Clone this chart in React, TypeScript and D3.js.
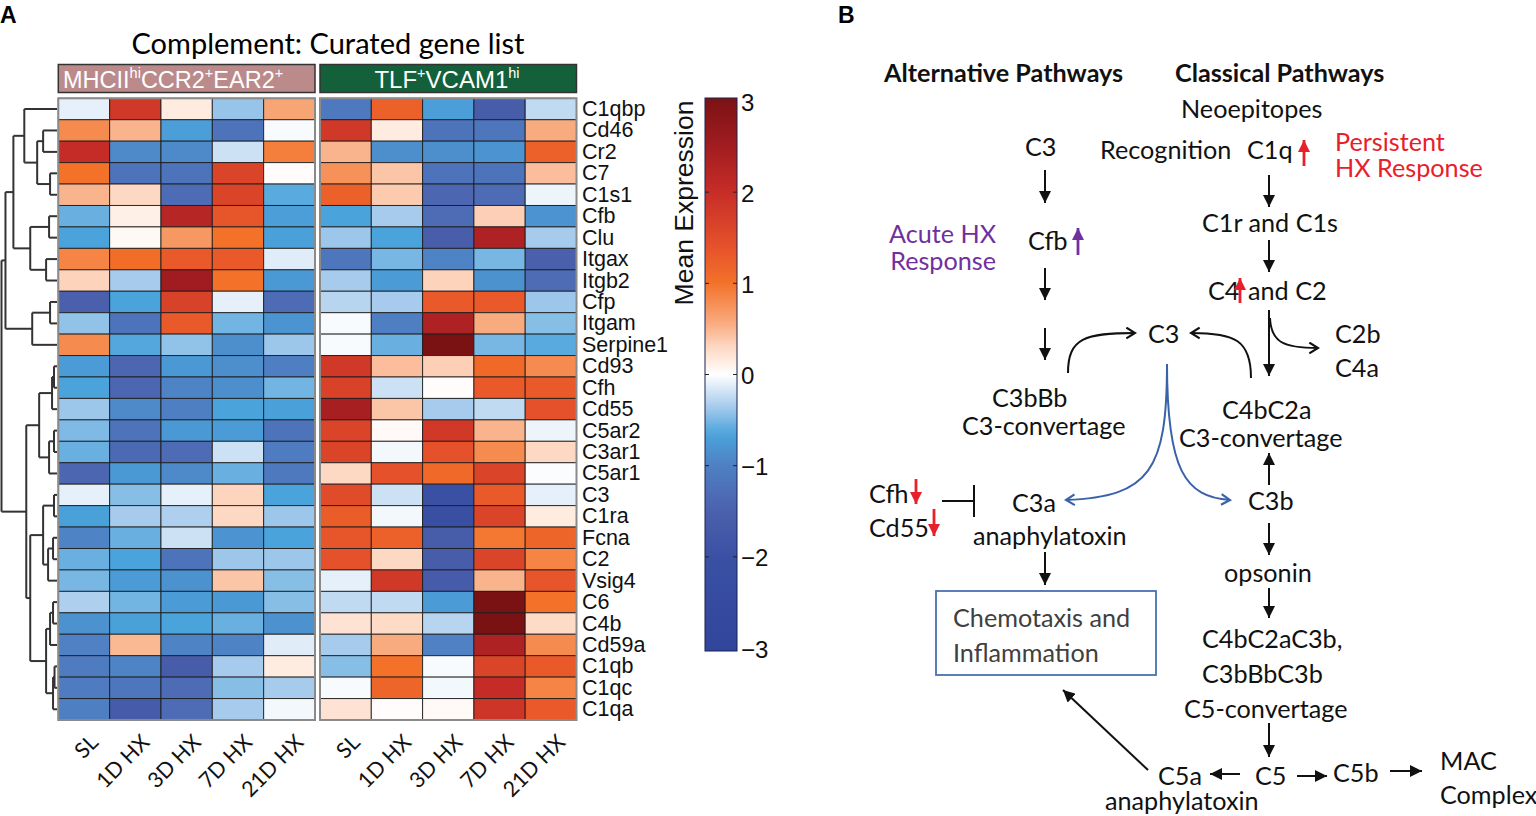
import React from "react";
import * as d3 from "d3";

const genes = ["C1qbp","Cd46","Cr2","C7","C1s1","Cfb","Clu","Itgax","Itgb2","Cfp","Itgam","Serpine1","Cd93","Cfh","Cd55","C5ar2","C3ar1","C5ar1","C3","C1ra","Fcna","C2","Vsig4","C6","C4b","Cd59a","C1qb","C1qc","C1qa"];
const timepoints = ["SL","1D HX","3D HX","7D HX","21D HX"];

const mhcValues = [
  [-0.1, 1.8, 0.15, -0.4, 0.6],
  [0.8, 0.5, -0.7, -1.2, -0.03],
  [2.0, -0.9, -0.9, -0.2, 0.9],
  [1.0, -1.2, -1.2, 1.6, 0.02],
  [0.5, 0.3, -1.3, 1.6, -0.6],
  [-0.55, 0.12, 2.2, 1.35, -0.7],
  [-0.65, 0.05, 0.7, 1.0, -0.68],
  [0.85, 1.05, 1.3, 1.3, -0.12],
  [0.33, -0.35, 2.5, 1.0, -0.75],
  [-1.5, -0.65, 1.65, -0.1, -1.3],
  [-0.42, -1.2, 1.3, -0.52, -0.8],
  [0.8, -0.62, -0.42, -0.85, -0.38],
  [-0.72, -1.4, -0.75, -0.85, -1.0],
  [-0.65, -1.4, -0.95, -0.85, -0.52],
  [-0.38, -0.9, -1.0, -0.65, -0.68],
  [-0.48, -1.2, -0.75, -0.72, -1.2],
  [-0.55, -1.35, -1.3, -0.2, -1.05],
  [-1.4, -0.75, -0.9, -0.55, -1.1],
  [-0.1, -0.45, -0.1, 0.32, -0.65],
  [-0.68, -0.35, -0.32, 0.3, -0.38],
  [-0.95, -0.55, -0.2, -0.8, -0.65],
  [-0.55, -0.65, -1.2, -0.38, -0.38],
  [-0.5, -0.72, -0.82, 0.4, -0.45],
  [-0.32, -0.52, -0.72, -0.75, -0.45],
  [-0.82, -0.68, -0.65, -0.55, -0.82],
  [-0.98, 0.48, -0.95, -0.95, -0.12],
  [-1.05, -0.95, -1.6, -0.35, 0.15],
  [-1.05, -1.15, -1.3, -0.45, -0.35],
  [-1.0, -1.65, -1.3, -0.35, -0.05],
];

const tlfValues = [
  [-1.1, 1.2, -0.7, -1.6, -0.25],
  [1.8, 0.15, -1.2, -1.15, 0.55],
  [0.5, -0.85, -0.85, -0.8, 1.2],
  [0.75, 0.4, -1.2, -1.2, 0.45],
  [1.2, 0.38, -1.4, -1.3, -0.07],
  [-0.65, -0.35, -1.3, 0.35, -0.8],
  [-0.38, -0.65, -1.55, 2.3, -0.35],
  [-1.15, -0.5, -0.95, -0.5, -1.5],
  [-0.35, -0.72, 0.33, -0.82, -1.3],
  [-0.28, -0.35, 1.3, 1.3, -0.38],
  [-0.03, -1.0, 2.3, 0.55, -0.45],
  [-0.03, -0.55, 3.0, -0.5, -0.6],
  [1.8, 0.45, 0.35, 1.1, 0.8],
  [1.65, -0.2, 0.02, 1.3, 1.3],
  [2.4, 0.4, -0.35, -0.25, 1.4],
  [1.6, 0.04, 1.8, 0.5, -0.07],
  [1.6, -0.05, 1.4, 0.8, 0.3],
  [0.3, 1.4, 1.1, 1.6, -0.02],
  [1.5, -0.2, -2.0, 1.3, -0.1],
  [1.25, -0.05, -2.1, 1.6, 0.15],
  [1.35, 1.2, -1.6, 0.95, 1.15],
  [1.4, 0.3, -1.6, 1.6, 0.85],
  [-0.1, 1.8, -1.65, 0.5, 1.35],
  [-0.25, -0.25, -0.72, 3.0, 1.0],
  [0.22, 0.28, -0.28, 3.0, 0.28],
  [-0.35, 0.55, -0.98, 2.3, 0.8],
  [-0.45, 1.0, -0.03, 1.6, 1.3],
  [-0.03, 1.15, -0.05, 2.0, 0.85],
  [0.22, 0.02, 0.04, 1.85, 1.3],
];

const colorStops = [-3, -2, -1.5, -1, -0.65, -0.35, 0, 0.3, 0.55, 1, 1.4, 2, 2.5, 3];
const colorHex = ["#31469b","#3a50a3","#4b60ac","#4f7fc3","#4aa3db","#a6cbec","#ffffff","#fdd8c3","#f9ab80","#f37128","#e5512a","#c52c27","#a01c20","#7a1214"];
const legendTicks = [3, 2, 1, 0, -1, -2, -3];

// dendrogram: leaf = row index, node = {h, c:[a,b]}
type DNode = number | { h: number; c: [DNode, DNode] };
const N = (h: number, a: DNode, b: DNode): DNode => ({ h, c: [a, b] });
const dendro: DNode = N(56,
  N(52,
    N(44, N(33, 0, N(20, N(14, 1, 2), N(7, 3, 4))), N(27, N(8, 5, 6), N(11, 7, 8))),
    N(25, N(7, 9, 10), 11)),
  N(31,
    N(18, N(5, N(3, 12, 13), 14), N(8, N(3, 15, 16), 17)),
    N(27,
      N(14, N(3, 18, 19), N(9, N(4, 20, 21), 22)),
      N(11, N(7, N(4, 23, 24), 25), N(4, N(2.5, 26, 27), 28)))));

export default function App() {
  const color = d3.scaleLinear<string>().domain(colorStops).range(colorHex).interpolate(d3.interpolateRgb).clamp(true);
  const top = 98.3, bottom = 720;
  const y = d3.scaleBand<number>().domain(d3.range(genes.length)).range([top, bottom]);
  const x1 = d3.scaleBand<number>().domain(d3.range(5)).range([58.3, 315]);
  const x2 = d3.scaleBand<number>().domain(d3.range(5)).range([320, 576.5]);
  const xd = d3.scaleLinear().domain([0, 56]).range([57, 1.5]);

  const segs: [number, number, number, number][] = [];
  const walk = (n: DNode): { yy: number; h: number } => {
    if (typeof n === "number") return { yy: (y(n) as number) + y.bandwidth() / 2, h: 0 };
    const a = walk(n.c[0]);
    const b = walk(n.c[1]);
    const xx = xd(n.h);
    segs.push([xx, a.yy, xx, b.yy]);
    segs.push([xx, a.yy, xd(a.h), a.yy]);
    segs.push([xx, b.yy, xd(b.h), b.yy]);
    return { yy: (a.yy + b.yy) / 2, h: n.h };
  };
  walk(dendro);

  const cb = d3.scaleLinear().domain([-3, 3]).range([648, 101]);
  const gradStops = d3.range(0, 61).map(i => -3 + i * 0.1);

  const sans = "'Liberation Sans', Arial, sans-serif";
  const lato = "Lato, 'Open Sans', sans-serif";

  const renderGroup = (vals: number[][], xs: d3.ScaleBand<number>, key: string) => (
    <g key={key}>
      {vals.map((row, r) => row.map((v, c) => (
        <rect key={`${key}-${r}-${c}`} x={xs(c)} y={y(r)} width={xs.bandwidth()} height={y.bandwidth()}
          fill={color(v)} stroke="#1a1a1a" strokeWidth={1} strokeOpacity={0.85} />
      )))}
      <rect x={xs.range()[0]} y={top} width={xs.range()[1] - xs.range()[0]} height={bottom - top}
        fill="none" stroke="#8a8a8a" strokeWidth={2} />
    </g>
  );

  const black = "#111";
  const red = "#e8202a";
  const purple = "#7030a0";
  const labels: { t: string; x: number; y: number; a?: string; c?: string; b?: boolean }[] = [
    { t: "Alternative Pathways", x: 884, y: 72, b: true },
    { t: "Classical Pathways", x: 1175, y: 72, b: true },
    { t: "Neoepitopes", x: 1181, y: 108 },
    { t: "C3", x: 1025, y: 146 },
    { t: "Recognition", x: 1100, y: 149 },
    { t: "C1q", x: 1247, y: 149 },
    { t: "Persistent", x: 1335, y: 141, c: red },
    { t: "HX Response", x: 1335, y: 167, c: red },
    { t: "Acute HX", x: 996, y: 233, a: "end", c: purple },
    { t: "Response", x: 996, y: 260, a: "end", c: purple },
    { t: "Cfb", x: 1028, y: 240 },
    { t: "C1r and C1s", x: 1202, y: 222 },
    { t: "C4", x: 1208, y: 290 },
    { t: "and C2", x: 1248, y: 290 },
    { t: "C3", x: 1148, y: 333 },
    { t: "C2b", x: 1335, y: 333 },
    { t: "C4a", x: 1335, y: 367 },
    { t: "C3bBb", x: 992, y: 397 },
    { t: "C3-convertage", x: 962, y: 425 },
    { t: "C4bC2a", x: 1222, y: 409 },
    { t: "C3-convertage", x: 1179, y: 437 },
    { t: "C3a", x: 1012, y: 502 },
    { t: "anaphylatoxin", x: 973, y: 535 },
    { t: "C3b", x: 1248, y: 500 },
    { t: "Cfh", x: 869, y: 493 },
    { t: "Cd55", x: 869, y: 527 },
    { t: "opsonin", x: 1224, y: 572 },
    { t: "Chemotaxis and", x: 953, y: 617, c: "#404040" },
    { t: "Inflammation", x: 953, y: 652, c: "#404040" },
    { t: "C4bC2aC3b,", x: 1202, y: 638 },
    { t: "C3bBbC3b", x: 1202, y: 673 },
    { t: "C5-convertage", x: 1184, y: 708 },
    { t: "C5a", x: 1158, y: 775 },
    { t: "C5", x: 1255, y: 775 },
    { t: "C5b", x: 1333, y: 772 },
    { t: "MAC", x: 1440, y: 760 },
    { t: "Complex", x: 1440, y: 794 },
    { t: "anaphylatoxin", x: 1105, y: 800 },
  ];
  const arrows: { p: number[]; c: string }[] = [
    { p: [1045, 170, 1045, 203], c: "k" }, { p: [1269, 175, 1269, 207], c: "k" },
    { p: [1045, 268, 1045, 300], c: "k" }, { p: [1269, 240, 1269, 272], c: "k" },
    { p: [1045, 328, 1045, 360], c: "k" }, { p: [1269, 310, 1269, 376], c: "k" },
    { p: [1269, 485, 1269, 453], c: "k" }, { p: [1045, 552, 1045, 585], c: "k" },
    { p: [1269, 523, 1269, 555], c: "k" }, { p: [1269, 588, 1269, 618], c: "k" },
    { p: [1269, 723, 1269, 757], c: "k" }, { p: [1148, 770, 1063, 690], c: "k" },
    { p: [1240, 774, 1210, 774], c: "k" }, { p: [1297, 776, 1327, 776], c: "k" },
    { p: [1390, 771, 1422, 771], c: "k" },
    { p: [1304, 166, 1304, 140], c: "r" }, { p: [1240, 303, 1240, 278], c: "r" },
    { p: [916, 479, 916, 504], c: "r" }, { p: [934, 509, 934, 536], c: "r" },
    { p: [1078, 255, 1078, 228], c: "p" },
  ];
  const colMap: Record<string, string> = { k: black, r: red, p: purple };

  return (
    <svg width={1536} height={816} style={{ position: "absolute", left: 0, top: 0, background: "#fff" }}>
      <defs>
        <linearGradient id="cbgrad" x1="0" y1="1" x2="0" y2="0">
          {gradStops.map(v => <stop key={v} offset={(v + 3) / 6} stopColor={color(v)} />)}
        </linearGradient>
        {Object.entries(colMap).map(([k, c]) => (
          <marker key={k} id={`tri-${k}`} viewBox="0 0 10 10" refX={10} refY={5} markerUnits="userSpaceOnUse"
            markerWidth={12} markerHeight={12} orient="auto">
            <path d="M0,0 L10,5 L0,10 z" fill={c} />
          </marker>
        ))}
        <marker id="chev-k" viewBox="0 0 12 12" refX={10} refY={6} markerUnits="userSpaceOnUse" markerWidth={13} markerHeight={13} orient="auto">
          <path d="M2,1 L10,6 L2,11" fill="none" stroke={black} strokeWidth={2} />
        </marker>
        <marker id="chev-b" viewBox="0 0 12 12" refX={10} refY={6} markerUnits="userSpaceOnUse" markerWidth={13} markerHeight={13} orient="auto">
          <path d="M2,1 L10,6 L2,11" fill="none" stroke="#3a62a8" strokeWidth={2} />
        </marker>
      </defs>

      {/* Panel A */}
      <text x={0} y={23} fontFamily={sans} fontWeight="bold" fontSize={23}>A</text>
      <text x={328} y={54} textAnchor="middle" fontFamily={lato} fontSize={29}>Complement: Curated gene list</text>

      <rect x={58.3} y={64.5} width={256.7} height={28} fill="#bb8a8a" stroke="#333" strokeWidth={1.5} />
      <text x={63} y={87.5} fontFamily={sans} fontSize={23.5} fill="#fff">
        MHCII<tspan fontSize={14.5} dy={-10}>hi</tspan><tspan dy={10}>CCR2</tspan><tspan fontSize={14.5} dy={-10}>+</tspan><tspan dy={10}>EAR2</tspan><tspan fontSize={14.5} dy={-10}>+</tspan>
      </text>
      <rect x={320} y={64.5} width={256.5} height={28} fill="#14603a" stroke="#333" strokeWidth={1.5} />
      <text x={447} y={87.5} textAnchor="middle" fontFamily={sans} fontSize={24} fill="#fff">
        TLF<tspan fontSize={14.5} dy={-10}>+</tspan><tspan dy={10}>VCAM1</tspan><tspan fontSize={14.5} dy={-10}>hi</tspan>
      </text>

      {renderGroup(mhcValues, x1, "mhc")}
      {renderGroup(tlfValues, x2, "tlf")}

      <g stroke="#333" strokeWidth={2} fill="none">
        {segs.map((s, i) => <line key={i} x1={s[0]} y1={s[1]} x2={s[2]} y2={s[3]} />)}
      </g>

      {genes.map((g, i) => (
        <text key={g} x={582} y={(y(i) as number) + y.bandwidth() / 2} dominantBaseline="central"
          fontFamily={sans} fontSize={21.5} fill="#111">{g}</text>
      ))}

      {[x1, x2].map((xs, gi) => timepoints.map((t, i) => {
        const cx = (xs(i) as number) + xs.bandwidth() / 2 + 10;
        return (
          <text key={`${gi}-${t}`} transform={`translate(${cx},738) rotate(-45)`} textAnchor="end"
            dominantBaseline="central" fontFamily={lato} fontSize={21.5} fill="#111">{t}</text>
        );
      }))}

      {/* Colorbar */}
      <rect x={705} y={98} width={32} height={553} fill="url(#cbgrad)" stroke="#1a2250" strokeWidth={1} />
      {legendTicks.map(v => (
        <g key={v}>
          {v !== 3 && v !== -3 && <line x1={705} x2={709} y1={cb(v)} y2={cb(v)} stroke="#222" strokeWidth={1} />}
          {v !== 3 && v !== -3 && <line x1={733} x2={737} y1={cb(v)} y2={cb(v)} stroke="#222" strokeWidth={1} />}
          <text x={741} y={cb(v) + 1} dominantBaseline="central" fontFamily={sans} fontSize={24} fill="#111">
            {v < 0 ? "\u2212" + Math.abs(v) : String(v)}
          </text>
        </g>
      ))}
      <text transform="translate(684,203) rotate(-90)" textAnchor="middle" dominantBaseline="central"
        fontFamily={sans} fontSize={26.5} fill="#111">Mean Expression</text>

      {/* Panel B */}
      <text x={838} y={23} fontFamily={sans} fontWeight="bold" fontSize={23}>B</text>
      {labels.map((l, i) => (
        <text key={i} x={l.x} y={l.y} textAnchor={l.a || "start"} dominantBaseline="central"
          fontFamily={lato} fontWeight={l.b ? "bold" : "normal"} fontSize={25.2} fill={l.c || black}>{l.t}</text>
      ))}
      {arrows.map((a, i) => (
        <line key={i} x1={a.p[0]} y1={a.p[1]} x2={a.p[2]} y2={a.p[3]} stroke={colMap[a.c]}
          strokeWidth={a.c === "k" ? 2 : 2.8} markerEnd={`url(#tri-${a.c})`} />
      ))}
      <line x1={942} y1={501} x2={974} y2={501} stroke={black} strokeWidth={2} />
      <line x1={974} y1={485} x2={974} y2={517} stroke={black} strokeWidth={2} />
      <g fill="none" strokeWidth={2}>
        <path d="M1068,373 C1068,338 1085,333 1135,333" stroke={black} markerEnd="url(#chev-k)" />
        <path d="M1251,378 C1251,340 1235,333 1191,333" stroke={black} markerEnd="url(#chev-k)" />
        <path d="M1270,318 C1271,342 1283,348 1318,348" stroke={black} markerEnd="url(#chev-k)" />
        <path d="M1167,364 C1167,470 1150,497 1066,500" stroke="#3a62a8" markerEnd="url(#chev-b)" />
        <path d="M1167,364 C1167,470 1185,497 1230,500" stroke="#3a62a8" markerEnd="url(#chev-b)" />
      </g>
      <rect x={936} y={591} width={220} height={84} fill="none" stroke="#4a70b0" strokeWidth={1.8} />
    </svg>
  );
}
